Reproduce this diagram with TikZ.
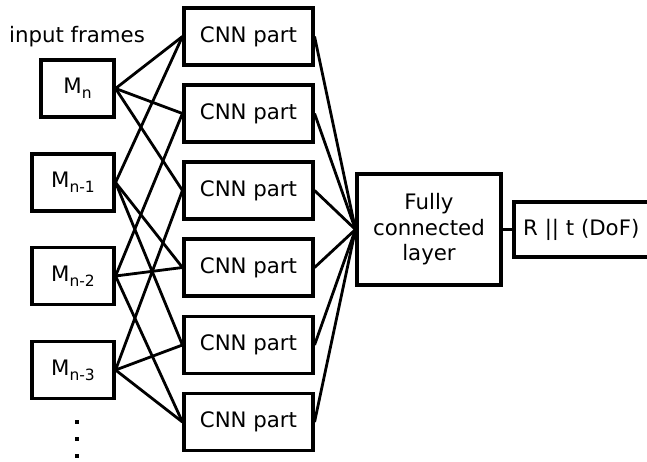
\documentclass[tikz,border=0pt]{standalone}
\usepackage{fontspec}
\setmainfont{DejaVu Sans}
\newcommand{\msub}[1]{M\raisebox{-5pt}{\fontsize{15.5}{15.5}\selectfont #1}}
\begin{document}
\begin{tikzpicture}[x=1pt,y=-1pt,
  box/.style={draw,line width=3.1pt,inner sep=0pt,minimum height=57pt,align=center,font=\fontsize{21.3}{25.5}\selectfont},
  mbox/.style={box,minimum width=82pt},
  cnn/.style={box,minimum width=129pt},
  conn/.style={line width=2.8pt}]
\useasboundingbox (0,0) rectangle (647,462);
\node[font=\fontsize{21.3}{25.5}\selectfont] (lbl) at (77,37) {input frames};
\node[box,minimum width=73pt] (m0) at (77.5,88.5) {\msub{n}};
\node[mbox] (m1) at (73,182.5) {\msub{n-1}};
\node[mbox] (m2) at (73,276) {\msub{n-2}};
\node[mbox] (m3) at (73,370) {\msub{n-3}};
\foreach \i/\y in {1/36.5,2/113.5,3/190.5,4/267.5,5/345,6/422}
  \node[cnn] (c\i) at (248.5,\y) {CNN part};
\node[box,minimum width=144pt,minimum height=111pt] (fc) at (429,229.5) {Fully\\connected\\layer};
\node[box,minimum width=150pt,minimum height=55pt] (out) at (589,229.5) {};
\node[font=\fontsize{21.3}{25.5}\selectfont,anchor=west,inner sep=0pt] (outt) at (523,229.5) {R || t (DoF)};
\foreach \a/\b in {m0/c1,m0/c2,m0/c3,m1/c1,m1/c4,m1/c5,m2/c2,m2/c4,m2/c6,m3/c3,m3/c5,m3/c6}
  \draw[conn] (\a.east) -- (\b.west);
\foreach \i in {1,...,6}
  \draw[conn] (c\i.east) -- (fc.west);
\draw[conn] (fc.east) -- (out.west);
\foreach \y in {422,439,456}
  \fill (75.3,\y-2) rectangle (79.2,\y+2);
\end{tikzpicture}
\end{document}
